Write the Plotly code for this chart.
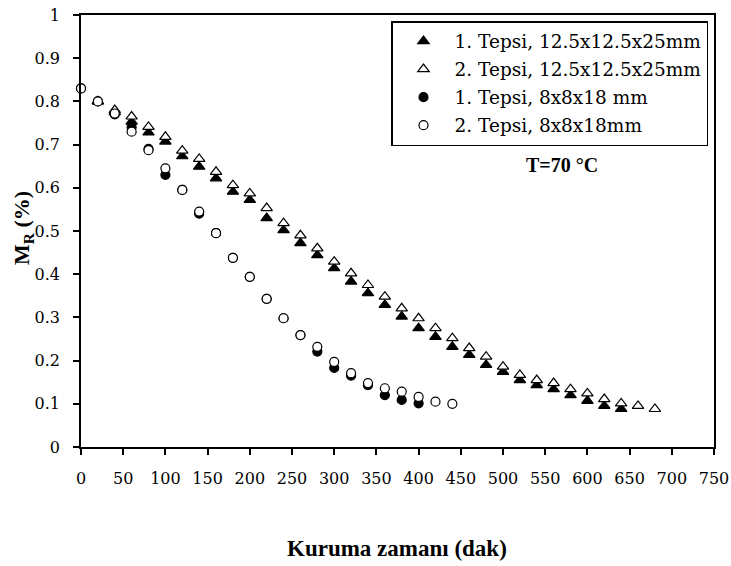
import plotly.graph_objects as go

# ---- data ----
x_tri1 = [20, 40, 60, 80, 100, 120, 140, 160, 180, 200, 220, 240, 260, 280, 300, 320,
          340, 360, 380, 400, 420, 440, 460, 480, 500, 520, 540, 560, 580, 600, 620, 640]
y_tri1 = [0.80, 0.775, 0.753, 0.728, 0.707, 0.673, 0.649, 0.622, 0.591, 0.572, 0.53, 0.502,
          0.472, 0.444, 0.414, 0.383, 0.356, 0.329, 0.302, 0.275, 0.255, 0.232, 0.213, 0.19,
          0.174, 0.155, 0.143, 0.134, 0.12, 0.107, 0.095, 0.088]

x_tri2 = [20, 40, 60, 80, 100, 120, 140, 160, 180, 200, 220, 240, 260, 280, 300, 320, 340,
          360, 380, 400, 420, 440, 460, 480, 500, 520, 540, 560, 580, 600, 620, 640, 660, 680]
y_tri2 = [0.80, 0.78, 0.765, 0.741, 0.718, 0.686, 0.667, 0.637, 0.606, 0.587, 0.553, 0.518,
          0.49, 0.46, 0.429, 0.402, 0.375, 0.348, 0.321, 0.298, 0.275, 0.252, 0.229, 0.209,
          0.186, 0.167, 0.155, 0.148, 0.134, 0.124, 0.111, 0.101, 0.095, 0.088]

x_cir1 = [0, 20, 40, 60, 80, 100, 120, 140, 160, 180, 200, 220, 240, 260, 280, 300, 320,
          340, 360, 380, 400]
y_cir1 = [0.83, 0.80, 0.77, 0.74, 0.69, 0.63, 0.595, 0.54, 0.495, 0.438, 0.394, 0.343,
          0.298, 0.259, 0.221, 0.183, 0.165, 0.143, 0.12, 0.109, 0.101]

x_cir2 = [0, 20, 40, 60, 80, 100, 120, 140, 160, 180, 200, 220, 240, 260, 280, 300, 320,
          340, 360, 380, 400, 420, 440]
y_cir2 = [0.83, 0.80, 0.772, 0.73, 0.687, 0.645, 0.595, 0.545, 0.495, 0.438, 0.394, 0.343,
          0.298, 0.259, 0.232, 0.197, 0.171, 0.148, 0.136, 0.128, 0.116, 0.105, 0.1]

names = ["1. Tepsi, 12.5x12.5x25mm", "2. Tepsi, 12.5x12.5x25mm",
         "1. Tepsi, 8x8x18 mm", "2. Tepsi, 8x8x18mm"]

x_ticks = [0, 50, 100, 150, 200, 250, 300, 350, 400, 450, 500, 550, 600, 650, 700, 750]
y_ticks = [0, 0.1, 0.2, 0.3, 0.4, 0.5, 0.6, 0.7, 0.8, 0.9, 1]
y_ticktext = ["0", "0.1", "0.2", "0.3", "0.4", "0.5", "0.6", "0.7", "0.8", "0.9", "1"]

# ---- figure ----
fig = go.Figure()
specs = [
    (x_tri1, y_tri1, names[0], "triangle-up", "black", 10),
    (x_tri2, y_tri2, names[1], "triangle-up", "white", 10),
    (x_cir1, y_cir1, names[2], "circle", "black", 9),
    (x_cir2, y_cir2, names[3], "circle", "white", 9),
]
for i, (xs, ys, nm, sym, fill, sz) in enumerate(specs):
    fig.add_trace(go.Scatter(
        x=xs, y=ys, name=nm, mode="markers", cliponaxis=False,
        legendgroup=f"g{i}",
        marker=dict(symbol=sym, size=sz, color=fill, line=dict(color="black", width=1.2)),
    ))

axis_font = dict(family="DejaVu Serif", size=16, color="black")
fig.update_xaxes(range=[0, 750], tickvals=x_ticks, ticks="outside", ticklen=6,
                 tickwidth=1.5, tickcolor="black", showline=True, linecolor="black",
                 linewidth=1.5, mirror=True, showgrid=False, zeroline=False,
                 tickfont=axis_font, ticklabelstandoff=10, automargin=False,
                 ticklabeloverflow="allow")
fig.update_yaxes(range=[0, 1], tickvals=y_ticks, ticktext=y_ticktext, ticks="outside",
                 ticklen=6, tickwidth=1.5, tickcolor="black", showline=True,
                 linecolor="black", linewidth=1.5, mirror=True, showgrid=False,
                 zeroline=False, tickfont=axis_font, ticklabelstandoff=10, automargin=False,
                 ticklabeloverflow="allow")

fig.add_annotation(text="<b>Kuruma zamanı (dak)</b>", xref="paper", yref="paper",
                   x=(397 - 81) / 633, y=-(548 - 447) / 432, showarrow=False,
                   xanchor="center", yanchor="middle",
                   font=dict(family="Liberation Serif", size=23, color="black"))
fig.add_annotation(text="<b>M<sub>R</sub> (%)</b>", xref="paper", yref="paper",
                   x=-(81 - 23) / 633, y=(447 - 228) / 432, showarrow=False, textangle=-90,
                   xanchor="center", yanchor="middle",
                   font=dict(family="Liberation Serif", size=22, color="black"))
fig.add_annotation(text="<b>T=70 °C</b>", xref="paper", yref="paper",
                   x=(562 - 81) / 633, y=(447 - 165) / 432, showarrow=False,
                   xanchor="center", yanchor="middle",
                   font=dict(family="Liberation Serif", size=20, color="black"))

fig.update_layout(
    width=731, height=566,
    margin=dict(l=81, r=17, t=15, b=119, autoexpand=False),
    paper_bgcolor="white", plot_bgcolor="white",
    showlegend=True,
    legend=dict(x=(708 - 81) / 633, xanchor="right", y=(447 - 21) / 432, yanchor="top",
                bgcolor="white", bordercolor="black", borderwidth=1.5,
                font=dict(family="DejaVu Serif", size=18.5, color="black"),
                tracegroupgap=1, itemwidth=52, traceorder="grouped"),
)

# remove the default 8 px page margin so the figure fills the window exactly
fig.write_html("out.html",
               config={"displayModeBar": False},
               post_script="document.body.style.margin='0';"
                           "document.body.style.overflow='hidden';")
